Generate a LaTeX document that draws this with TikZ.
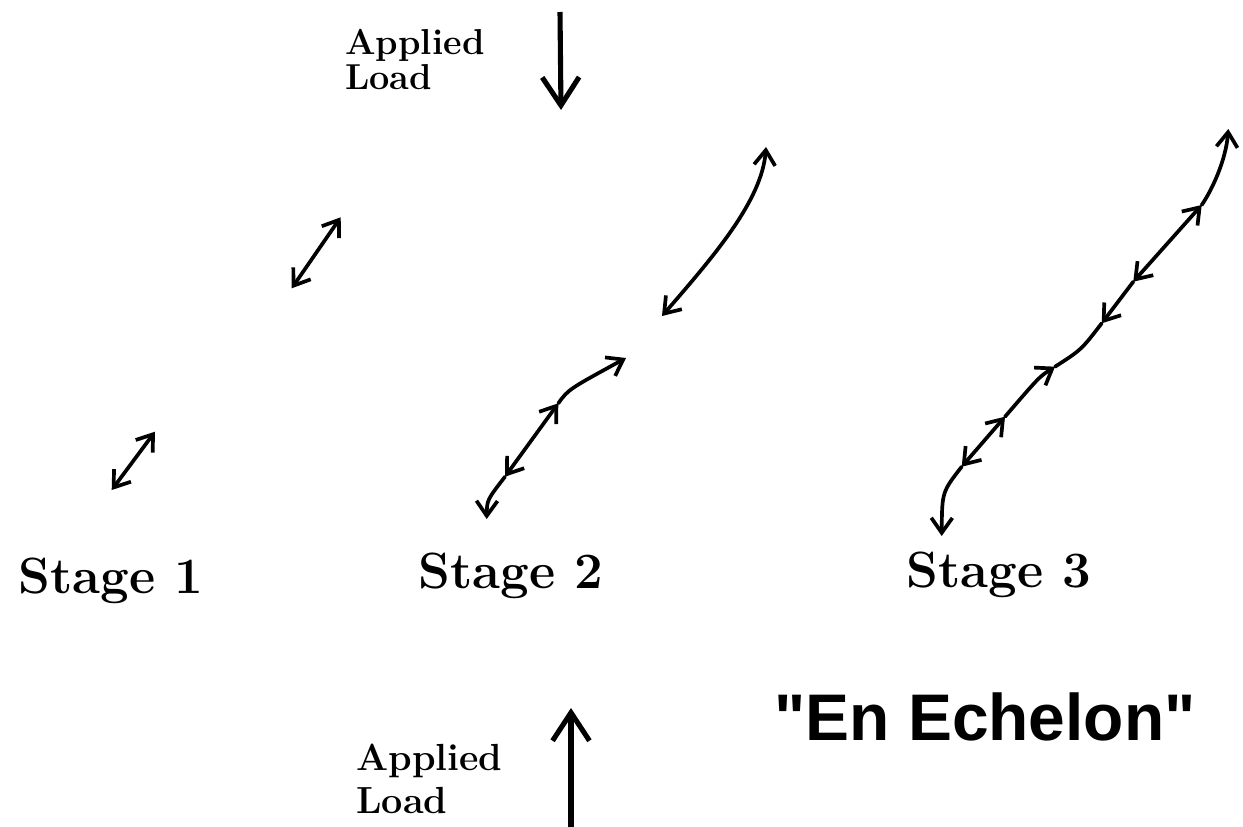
\documentclass[tikz,border=0pt]{standalone}
\usepackage{fontspec}
\newfontfamily\echfont{Liberation Sans}
\usetikzlibrary{arrows.meta}
\begin{document}
\begin{tikzpicture}[x=0.02cm,y=-0.02cm,
  >={Straight Barb[length=8.5pt,width=12pt]},
  crack/.style={line width=2.1pt, line cap=round, line join=round},
  loadarrow/.style={line width=2.9pt, -{Straight Barb[length=16pt,width=21pt]}},
  loadtext/.style={align=left, anchor=north west, inner sep=0pt},
  stagetext/.style={anchor=base west, inner sep=0pt, font=\fontsize{29}{30}\selectfont\bfseries}]
\useasboundingbox (0,0) rectangle (1243,827);
% applied loads
\node[loadtext, font=\fontsize{20.5}{19.8}\selectfont\bfseries] (loadT) at (345,29) {Applied\\Load};
\coordinate (lt0) at (560,12); \coordinate (lt1) at (561,110);
\draw[loadarrow] (lt0) -- (lt1);
\node[loadtext, font=\fontsize{21.5}{24.4}\selectfont\bfseries] (loadB) at (356,744) {Applied\\Load};
\coordinate (lb0) at (571,827); \coordinate (lb1) at (571,708);
\draw[loadarrow] (lb0) -- (lb1);
% stage labels
\node[stagetext] (st1) at (18,593) {Stage 1};
\node[stagetext] (st2) at (418,588) {Stage 2};
\node[stagetext] (st3) at (906,587) {Stage 3};
\node[inner sep=0pt, font=\echfont\fontsize{37.5}{40}\selectfont\bfseries] (ech) at (985,717) {"En Echelon"};
% stage 1
\coordinate (s1a1) at (291.7,288.3); \coordinate (s1a2) at (340.7,217.3);
\coordinate (s1b1) at (111.7,490); \coordinate (s1b2) at (155,431.7);
\draw[crack,<->] (s1a1) -- (s1a2);
\draw[crack,<->] (s1b1) -- (s1b2);
% stage 2
\coordinate (u0) at (662,316); \coordinate (u2) at (766,147);
\draw[crack,<->] (u0) .. controls (715,255) and (762,200) .. (u2);
\coordinate (q0) at (486.7,519); \coordinate (q1) at (505,476.7);
\coordinate (q2) at (558.3,403.3); \coordinate (q3) at (626,358);
\draw[crack,->] (q1) .. controls (487,500) .. (q0);
\draw[crack,<->] (q1) -- (q2);
\draw[crack,->] (q2) .. controls (568.4,389.4) .. (q3);
% stage 3
\coordinate (p0) at (941.7,536); \coordinate (p1) at (961.7,466.7);
\coordinate (p2) at (1005,416.7); \coordinate (p3) at (1055,366.7);
\coordinate (p4) at (1101.7,323.3); \coordinate (p5) at (1133.3,281.7);
\coordinate (p6) at (1201.7,205); \coordinate (p7) at (1228.3,129);
\draw[crack,->] (p1) .. controls (942,492) .. (p0);
\draw[crack,<->] (p1) -- (p2);
\draw[crack,->] (p2) .. controls (1039.4,376.7) .. (p3);
\draw[crack] (p3) .. controls (1081.2,349.9) .. (p4);
\draw[crack,<-] (p4) -- (p5);
\draw[crack,<->] (p5) -- (p6);
\draw[crack,->] (p6) .. controls (1212,190) and (1226,160) .. (p7);
\end{tikzpicture}
\end{document}
